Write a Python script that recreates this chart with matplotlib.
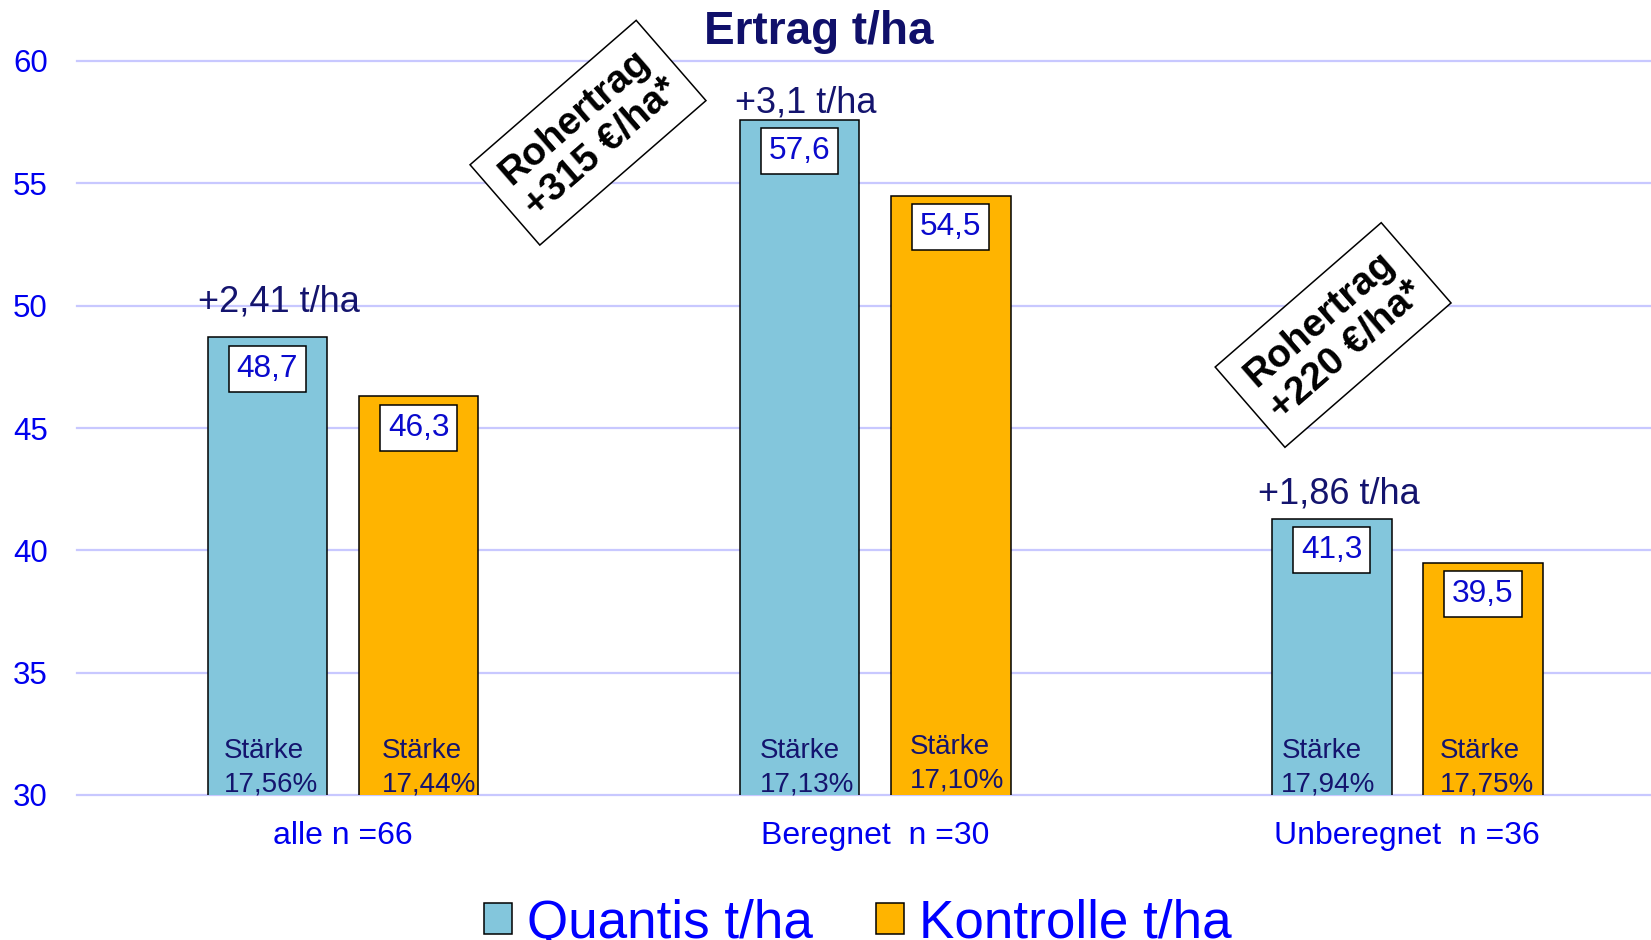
import matplotlib
matplotlib.use('Agg')
import matplotlib.pyplot as plt
import numpy as np

plt.rcParams['font.family'] = ['Liberation Sans', 'DejaVu Sans']

# ---- data ----
categories = ['alle n =66', 'Beregnet  n =30', 'Unberegnet  n =36']
quantis = [48.7, 57.6, 41.3]
kontrolle = [46.3, 54.5, 39.5]
quantis_starch = ['17,56%', '17,13%', '17,94%']
kontrolle_starch = ['17,44%', '17,10%', '17,75%']
diff_labels = ['+2,41 t/ha', '+3,1 t/ha', '+1,86 t/ha']
revenue_labels = ['Rohertrag\n+315 €/ha*', 'Rohertrag\n+220 €/ha*']
series_names = ['Quantis t/ha', 'Kontrolle t/ha']
yticks = [30, 35, 40, 45, 50, 55, 60]
title = 'Ertrag t/ha'

# ---- styles ----
c_quantis = '#83C6DC'
c_kontrolle = '#FFB400'
navy = '#14146E'
blue = '#0000EE'
valblue = '#0A0ACD'

W, H = 1651, 940
fig = plt.figure(figsize=(W / 100, H / 100), dpi=100)
ax = fig.add_axes([77 / W, 1 - 795 / H, (W - 77) / W, (795 - 61) / H])

x = np.arange(len(categories))
bw = 0.225
off = 0.142
b1 = ax.bar(x - off, quantis, bw, color=c_quantis, edgecolor='black',
            linewidth=1.1, zorder=3, label=series_names[0])
b2 = ax.bar(x + off, kontrolle, bw, color=c_kontrolle, edgecolor='black',
            linewidth=1.1, zorder=3, label=series_names[1])

ax.set_xlim(-0.5, 2.458)
ax.set_ylim(30, 60)
ax.set_yticks(yticks)
ax.yaxis.grid(True, color='#C8C8FF', linewidth=1.6, zorder=0)
ax.set_axisbelow(True)
for ln in ax.get_ygridlines():
    ln.set_clip_on(False)
for s in ax.spines.values():
    s.set_visible(False)
ax.tick_params(axis='y', length=0, pad=21, labelsize=22.5, labelcolor=blue)
ax.set_xticks(x)
ax.set_xticklabels(categories)
ax.tick_params(axis='x', length=0, pad=18.5, labelsize=23, labelcolor=blue)


def fmt(v):
    return f'{v:.1f}'.replace('.', ',')


# value boxes
for bars, vals in ((b1, quantis), (b2, kontrolle)):
    for rect, v in zip(bars, vals):
        ax.annotate(fmt(v), xy=(rect.get_x() + rect.get_width() / 2, v),
                    xytext=(0, -31.5), textcoords='offset pixels',
                    ha='center', va='center', fontsize=22.8, color=valblue,
                    bbox=dict(boxstyle='square,pad=0.25', fc='white',
                              ec='black', lw=1.1), zorder=5)

# starch labels inside bars
starch_dx = [[16, 20, 9.5], [23, 19, 17]]
starch_dy = [[-2.5, -2.5, -2.5], [-2.5, 1.5, -2.5]]
for k, (bars, labels) in enumerate(((b1, quantis_starch), (b2, kontrolle_starch))):
    for i, (rect, s) in enumerate(zip(bars, labels)):
        ax.annotate('Stärke\n' + s, xy=(rect.get_x(), 30),
                    xytext=(starch_dx[k][i], starch_dy[k][i]),
                    textcoords='offset pixels', ha='left', va='bottom',
                    fontsize=20, color=navy, linespacing=1.36, zorder=5)

# difference labels above Quantis bars
diff_dx = [11.3, 5.8, 6.8]
diff_dy = [26, 7.5, 15]
for i, (rect, v, lbl) in enumerate(zip(b1, quantis, diff_labels)):
    ax.annotate(lbl, xy=(rect.get_x() + rect.get_width() / 2, v),
                xytext=(diff_dx[i], diff_dy[i]), textcoords='offset pixels',
                ha='center', va='baseline', fontsize=26, color=navy,
                annotation_clip=False)

# rotated revenue boxes
rev_pos = [(588 / W, 1 - 132.7 / H), (1333.1 / W, 1 - 335 / H)]
for (px, py), lbl in zip(rev_pos, revenue_labels):
    fig.text(px, py, lbl, rotation=41, rotation_mode='anchor',
             ha='center', va='center', multialignment='center',
             fontsize=28, fontweight='bold', color='black',
             bbox=dict(boxstyle='square,pad=0.37', fc='white', ec='black', lw=1.1))

# title
fig.text(818.3 / W, 1 - 44.3 / H, title, ha='center', va='baseline',
         fontsize=33, fontweight='bold', color='#10106A')

# legend
fig.legend(handles=[b1, b2], labels=series_names, loc='center',
           bbox_to_anchor=(0.5195, 0.018), ncol=2, frameon=False,
           fontsize=38.2, handlelength=0.52, handleheight=0.52,
           handletextpad=0.28, columnspacing=1.2, borderpad=0,
           borderaxespad=0, labelcolor='#0000FF')

fig.savefig('out.png', dpi=100)
